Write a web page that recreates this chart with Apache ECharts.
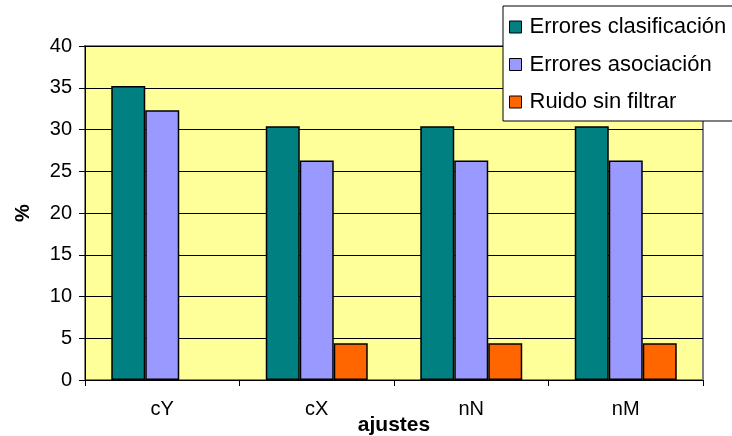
<!DOCTYPE html>
<html>
<head>
<meta charset="utf-8">
<script src="https://cdn.jsdelivr.net/npm/echarts@6/dist/echarts.min.js"></script>
<style>
  html, body { margin: 0; padding: 0; background: #ffffff; }
  #chart { width: 732px; height: 436px; }
</style>
</head>
<body>
<div id="chart"></div>
<script>
// Settings compared, and the error / noise percentage for each
const categories = ['cY', 'cX', 'nN', 'nM'];
const erroresClasificacion = [35.2, 30.4, 30.4, 30.4];
const erroresAsociacion = [32.3, 26.3, 26.3, 26.3];
const ruidoSinFiltrar = [null, 4.4, 4.4, 4.4];
const seriesNames = ['Errores clasificación', 'Errores asociación', 'Ruido sin filtrar'];
const seriesColors = ['#008080', '#9999FF', '#FF6600'];
const yTicks = { min: 0, max: 40, step: 5 };

const FONT = '"Liberation Sans", Arial, sans-serif';

const chart = echarts.init(document.getElementById('chart'), null, { renderer: 'canvas' });

const values = [erroresClasificacion, erroresAsociacion, ruidoSinFiltrar];

chart.setOption({
  animation: false,
  backgroundColor: '#ffffff',
  grid: {
    left: 85, right: 29, top: 46, bottom: 56,
    outerBoundsMode: 'none',
    containLabel: false,
    show: true,
    backgroundColor: '#FFFF99',
    borderColor: '#808080',
    borderWidth: 2
  },
  legend: {
    orient: 'vertical',
    left: 503,
    top: 6,
    padding: [10, 30, 8, 6],
    itemGap: 15.5,
    itemWidth: 12,
    itemHeight: 12,
    icon: 'rect',
    backgroundColor: '#ffffff',
    borderColor: '#000000',
    borderWidth: 1,
    z: 10,
    textStyle: {
      fontFamily: FONT,
      fontSize: 22,
      lineHeight: 20,
      color: '#000000',
      padding: [0, 0, 0, 3]
    },
    data: seriesNames.map((n, i) => ({
      name: n,
      itemStyle: { color: seriesColors[i], borderColor: '#000000', borderWidth: 1 }
    }))
  },
  xAxis: {
    type: 'category',
    data: categories,
    name: 'ajustes',
    nameLocation: 'middle',
    nameGap: 35,
    nameMoveOverlap: false,
    nameTextStyle: { fontFamily: FONT, fontSize: 21, fontWeight: 'bold', color: '#000000' },
    axisLine: { show: true, lineStyle: { color: '#000000', width: 1 } },
    axisTick: { show: true, inside: false, length: 6, alignWithLabel: false, lineStyle: { color: '#000000' } },
    axisLabel: { fontFamily: FONT, fontSize: 20, color: '#000000', margin: 19 },
    splitLine: { show: false }
  },
  yAxis: {
    type: 'value',
    min: yTicks.min,
    max: yTicks.max,
    interval: yTicks.step,
    name: '%',
    nameLocation: 'middle',
    nameGap: 52,
    nameMoveOverlap: false,
    nameTextStyle: { fontFamily: FONT, fontSize: 20, fontWeight: 'bold', color: '#000000' },
    axisLine: { show: true, lineStyle: { color: '#000000', width: 1 } },
    axisTick: { show: true, inside: false, length: 6, lineStyle: { color: '#000000' } },
    axisLabel: { fontFamily: FONT, fontSize: 20, color: '#000000', margin: 13 },
    splitLine: { show: true, lineStyle: { color: '#000000', width: 1 } }
  },
  series: seriesNames.map((n, i) => ({
    name: n,
    type: 'bar',
    data: values[i],
    barGap: '0%',
    barCategoryGap: '34%',
    itemStyle: { color: seriesColors[i], borderColor: '#000000', borderWidth: 1.5 }
  }))
});
</script>
</body>
</html>
